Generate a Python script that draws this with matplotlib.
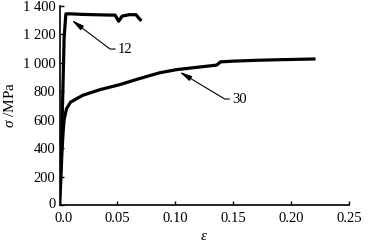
import matplotlib
matplotlib.use("Agg")
import matplotlib.pyplot as plt
import matplotlib.transforms as mtransforms
from matplotlib.ticker import FuncFormatter

matplotlib.rcParams.update({'font.size': 10, 'font.family': 'Liberation Serif',
                            'mathtext.fontset': 'custom',
                            'mathtext.it': 'Liberation Serif:italic',
                            'mathtext.rm': 'Liberation Serif'})

# specimen 12
eps12 = [0.0, 0.002, 0.004, 0.0055, 0.01, 0.02, 0.03, 0.04, 0.048, 0.051, 0.054, 0.06, 0.066, 0.0697]
sig12 = [0, 500, 1180, 1342, 1342, 1338, 1336, 1334, 1333, 1290, 1326, 1336, 1336, 1300]
# specimen 30
eps30 = [0.0, 0.001, 0.002, 0.003, 0.004, 0.006, 0.0095, 0.02, 0.035, 0.052, 0.07, 0.0863,
         0.1007, 0.12, 0.1355, 0.139, 0.15, 0.17, 0.19, 0.2195]
sig30 = [0, 150, 350, 500, 600, 675, 722, 770, 810, 845, 890, 928,
         950, 968, 982, 1005, 1010, 1016, 1020, 1025]
xticks = [0.0, 0.05, 0.10, 0.15, 0.20, 0.25]
xticklabels = ['0.0', '0.05', '0.10', '0.15', '0.20', '0.25']

fig = plt.figure(figsize=(3.71, 2.43), dpi=100)
ax = fig.add_axes([0.1604, 0.1564, 0.9415 - 0.1604, 0.977 - 0.1564])

ax.plot(eps12, sig12, color='black', lw=2.3, solid_joinstyle='round')
ax.plot(eps30, sig30, color='black', lw=2.3, solid_joinstyle='round')

arrow = dict(arrowstyle='-|>,head_length=0.7,head_width=0.15', color='black', lw=0.8,
             shrinkA=0, shrinkB=0, connectionstyle='angle,angleA=0,angleB=-37,rad=0')
ax.annotate('12', xy=(0.0105, 1298), xytext=(0.0505, 1095), va='center', ha='left',
            fontsize=10.5, arrowprops=arrow)
arrow30 = dict(arrow, connectionstyle='angle,angleA=0,angleB=-31,rad=0')
ax.annotate('30', xy=(0.1035, 935), xytext=(0.149, 744), va='center', ha='left',
            fontsize=10.5, arrowprops=arrow30)

ax.set_xlim(0, 0.25)
ax.set_ylim(0, 1400)
ax.set_xticks(xticks)
ax.set_xticklabels(xticklabels)
ax.set_yticks(range(0, 1401, 200))
ax.yaxis.set_major_formatter(FuncFormatter(lambda v, p: ('%d' % v) if v < 1000 else '%d %03d' % (v // 1000, v % 1000)))
ax.tick_params(direction='in', length=3, width=1, labelsize=10.5)
ax.tick_params(axis='x', pad=5)
ax.tick_params(axis='y', pad=3)
for s in ['top', 'right']:
    ax.spines[s].set_visible(False)
for s in ['left', 'bottom']:
    ax.spines[s].set_linewidth(1.2)

# nudge the "0.0" label right, and the "0" label up, like the original
lab0 = ax.get_xticklabels()[0]
lab0.set_transform(lab0.get_transform() + mtransforms.ScaledTranslation(4 / 100, 0, fig.dpi_scale_trans))
laby0 = ax.get_yticklabels()[0]
laby0.set_transform(laby0.get_transform() + mtransforms.ScaledTranslation(0, 2 / 100, fig.dpi_scale_trans))

ax.set_xlabel(r'$\varepsilon$', fontsize=11, labelpad=4)
ax.set_ylabel(r'$\sigma$ /MPa', fontsize=11, labelpad=4)

fig.savefig('out.png', dpi=100)
